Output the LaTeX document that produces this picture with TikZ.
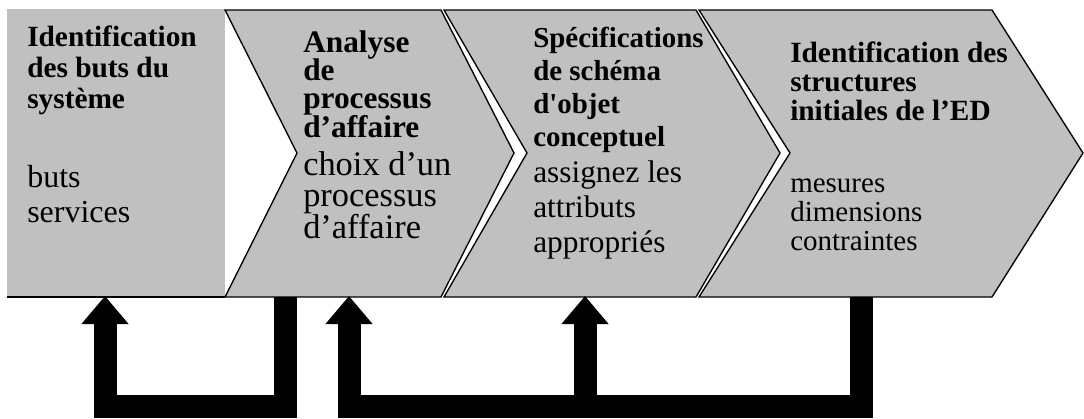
\documentclass[tikz,border=0pt]{standalone}
\usepackage{fontspec}
\setmainfont{Liberation Serif}
\usetikzlibrary{arrows.meta}
\definecolor{boxgray}{RGB}{192,192,192}
\newcommand\fsz[2]{\fontsize{#1}{#2}\selectfont}
\lineskiplimit=-50pt

\begin{document}
\begin{tikzpicture}[x=0.75pt,y=-0.75pt,
    chevron/.style={fill=boxgray,draw=black,line width=1pt},
    title/.style 2 args={anchor=base west,inner sep=0pt,align=left,font=\bfseries\fsz{#1}{#2}},
    body/.style 2 args={anchor=base west,inner sep=0pt,align=left,font=\fsz{#1}{#2}},
    feedback/.style={line width=17.25pt,line join=miter,-{Triangle[width=34pt,length=21pt]}}]
    \useasboundingbox (0,0) rectangle (1084,418);
    % steps
    \fill[boxgray] (7,9) rectangle (225,297);
    \draw[line width=1pt] (7,297) -- (225,297);
    \draw[chevron] (225,10) -- (441,10) -- (514,153) -- (441,297) -- (225,297) -- (297,153) -- cycle;
    \draw[chevron] (444,10) -- (696,10) -- (780,153) -- (696,297) -- (444,297) -- (527,153) -- cycle;
    \draw[chevron] (699,10) -- (992,10) -- (1083,153) -- (992,297) -- (699,297) -- (790,153) -- cycle;
    % texts (anchored on the baseline of their last line)
    \node[title={22}{23}] (buts) at (27,108) {Identification\\des buts du\\système};
    \node[body={24}{26}] (butsl) at (27,222) {buts\\services};
    \node[title={23.5}{21.2}] (anl) at (303,137) {Analyse\\de\\processus\\d’affaire};
    \node[body={25.8}{23.3}] (anll) at (303,238) {choix d’un\\processus\\d’affaire};
    \node[title={21.7}{24.75}] (spec) at (533,146) {Spécifications\\de schéma\\d\textquotesingle objet\\conceptuel};
    \node[body={23.5}{26}] (specl) at (533,252) {assignez les\\attributs\\appropriés};
    \node[title={22}{21.75}] (ed) at (790,120) {Identification des\\structures\\initiales de l’ED};
    \node[body={21.75}{21.4}] (edl) at (790,250) {mesures\\dimensions\\contraintes};
    % feedback arrows
    \coordinate (buts-s) at (105,296);
    \coordinate (anl-o) at (285,297);
    \coordinate (anl-s) at (349,296);
    \coordinate (spec-s) at (585,296);
    \coordinate (ed-o) at (861,297);
    \coordinate (bar) at (585,406.5);
    \draw[feedback] (anl-o) |- (105,406.5) -- (buts-s);
    \draw[feedback] (ed-o) |- (349,406.5) -- (anl-s);
    \draw[feedback] (bar) -- (spec-s);
\end{tikzpicture}
\end{document}
